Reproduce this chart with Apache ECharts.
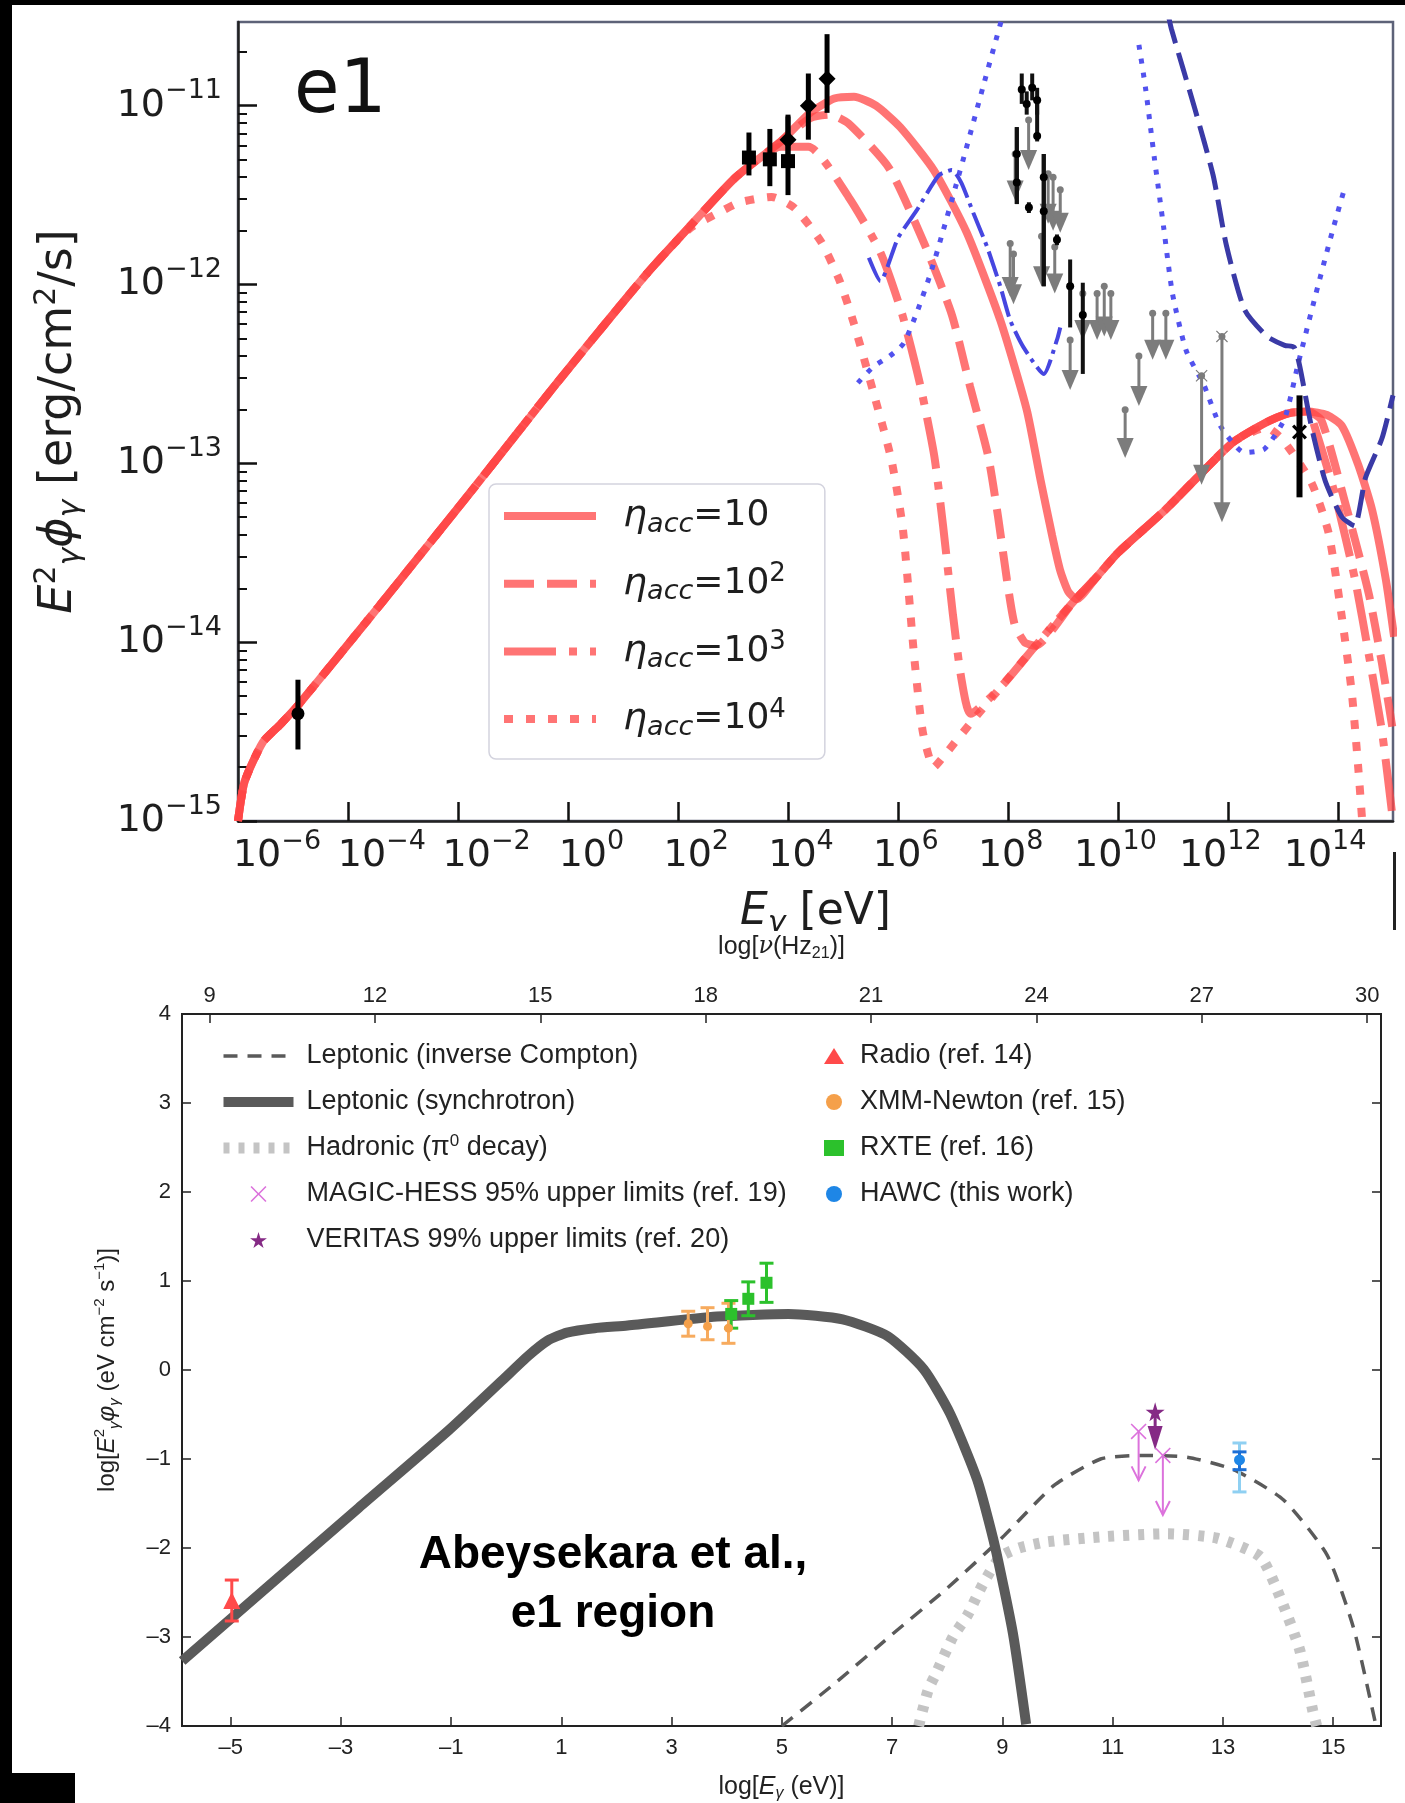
<!DOCTYPE html>
<html>
<head>
<meta charset="utf-8">
<title>e1 region SED</title>
<script src="https://cdn.jsdelivr.net/npm/echarts@6/dist/echarts.min.js"></script>
<style>
  html, body { margin: 0; padding: 0; background: #fff; }
  #chart { width: 1405px; height: 1803px; }
</style>
</head>
<body>
<div id="chart"></div>
<script>
// ---------- top panel: x = log10(E / eV), y = log10(E^2 phi / erg cm^-2 s^-1) ----------
const syncRise = [[-6, -15.0], [-5.88, -14.78], [-5.55, -14.56], [-5.23, -14.46], [-4.9, -14.35],
  [-3.44, -13.8], [-1.82, -13.18], [-0.2, -12.55], [1.43, -11.94]];
const icBranch = [[6.8, -14.65], [7.3, -14.46], [7.9, -14.24], [8.5, -14.02], [9.2, -13.77], [9.6, -13.64],
  [10.0, -13.5], [10.86, -13.26], [11.5, -13.06], [12.1, -12.88], [12.7, -12.77], [13.1, -12.72], [13.45, -12.71]];

const eta1Sync = [[2.2, -11.68], [3.05, -11.4], [3.87, -11.2], [4.4, -11.04], [4.84, -10.96], [5.2, -10.95],
  [5.6, -11.0], [6.04, -11.12], [6.65, -11.36], [7.25, -11.71], [7.86, -12.2], [8.34, -12.7], [8.59, -13.09],
  [8.8, -13.4], [8.95, -13.6], [9.1, -13.72], [9.25, -13.76]];
const eta1Cut = [[13.8, -12.73], [14.07, -12.79], [14.37, -13.01], [14.62, -13.26], [14.87, -13.65], [15.02, -13.97]];

const eta2Sync = [[2.2, -11.68], [3.05, -11.4], [3.87, -11.2], [4.4, -11.07], [4.75, -11.05], [5.1, -11.1],
  [5.84, -11.35], [6.49, -11.78], [6.98, -12.17], [7.31, -12.57], [7.64, -12.96], [7.82, -13.3], [7.98, -13.65],
  [8.12, -13.9], [8.3, -14.0]];
const eta2Cut = [[13.7, -12.76], [14.13, -13.22], [14.56, -13.73], [14.8, -14.12], [15.0, -14.5]];

const eta3Sync = [[2.2, -11.68], [3.05, -11.4], [3.87, -11.23], [4.37, -11.23], [5.1, -11.51], [5.68, -11.82],
  [6.08, -12.17], [6.41, -12.57], [6.66, -12.96], [6.82, -13.35], [7.0, -13.85], [7.15, -14.2], [7.32, -14.4]];
const eta3Cut = [[13.6, -12.82], [13.95, -13.18], [14.31, -13.65], [14.56, -14.07], [14.8, -14.5], [15.0, -15.0]];

const eta4Sync = [[2.2, -11.69], [2.73, -11.6], [3.13, -11.54], [3.7, -11.51], [4.11, -11.57], [4.6, -11.76],
  [4.94, -11.98], [5.2, -12.22], [5.55, -12.6], [5.88, -12.98], [6.09, -13.37], [6.3, -14.1], [6.45, -14.5], [6.65, -14.7]];
const eta4Cut = [[12.7, -12.8], [13.0, -12.87], [13.52, -13.11], [13.83, -13.39], [14.07, -13.86], [14.25, -14.28],
  [14.37, -14.71], [14.44, -15.0]];

const blueDotLow = [[5.27, -12.55], [5.55, -12.46], [5.85, -12.4], [6.1, -12.33], [6.35, -12.15], [6.6, -11.93],
  [6.82, -11.7], [7.05, -11.45], [7.24, -11.24], [7.55, -10.89], [7.9, -10.5]];
const blueDotHigh = [[10.38, -10.66], [10.5, -10.9], [10.66, -11.29], [10.83, -11.68], [10.99, -12.05], [11.24, -12.37],
  [11.56, -12.56], [11.86, -12.79], [12.3, -12.94], [12.66, -12.92], [13.03, -12.75], [13.27, -12.45], [13.6, -12.05],
  [13.9, -11.7], [14.14, -11.44]];
const blueDashDot = [[5.47, -11.85], [5.68, -11.98], [6.0, -11.74], [6.33, -11.59], [6.74, -11.39], [6.98, -11.36],
  [7.15, -11.43], [7.37, -11.6], [7.62, -11.79], [7.86, -12.01], [8.04, -12.2], [8.28, -12.35], [8.65, -12.5],
  [8.89, -12.31], [8.95, -12.24]];
const navyDash = [[10.92, -10.5], [10.97, -10.57], [11.4, -11.02], [11.73, -11.39], [11.97, -11.78], [12.3, -12.14],
  [12.71, -12.29], [13.03, -12.34], [13.2, -12.35], [13.3, -12.45], [13.52, -12.8], [13.77, -13.1], [14.07, -13.3],
  [14.3, -13.35], [14.5, -13.08], [14.8, -12.86], [15.0, -12.62]];

// [x, y, yLow, yHigh]
const radioPt = [[-4.91, -14.4, -14.6, -14.21]];
const xraySquares = [[3.29, -11.29, -11.39, -11.15], [3.67, -11.3, -11.45, -11.13], [4.0, -11.31, -11.5, -11.06]];
const xrayDiamonds = [[4.0, -11.19, -11.32, -11.05], [4.37, -11.0, -11.19, -10.82], [4.71, -10.85, -11.04, -10.6]];
const gammaPts = [[8.25, -10.91, -10.99, -10.82], [8.44, -10.9, -10.97, -10.82], [8.34, -10.99, -11.05, -10.92],
  [8.53, -10.97, -11.05, -10.9], [8.16, -11.27, -11.55, -11.12], [8.16, -11.43, -11.55, -11.12],
  [8.53, -11.17, -11.2, -10.95], [8.38, -11.57, -11.6, -11.54], [8.65, -11.4, -12.01, -11.27],
  [8.65, -11.59, -12.01, -11.27], [8.89, -11.75, -11.78, -11.72], [9.13, -12.01, -12.24, -11.86],
  [9.36, -12.17, -12.5, -11.99]];
const hawcTop = [[13.3, -12.825, -13.19, -12.62]];
// upper limits: [x, yTop, yArrowTip]
const grayLimits = [[8.375, -11.08, -11.36], [8.13, -11.27, -11.53], [8.04, -11.77, -12.07], [8.1, -11.83, -12.11],
  [8.73, -11.38, -11.66], [8.82, -11.4, -11.7], [8.95, -11.47, -11.71], [8.61, -11.73, -12.01], [8.85, -11.79, -12.05],
  [9.13, -12.31, -12.59], [9.36, -12.05, -12.31], [9.62, -12.05, -12.31], [9.75, -12.01, -12.29], [9.87, -12.05, -12.31],
  [10.13, -12.7, -12.97], [10.38, -12.4, -12.68], [10.63, -12.16, -12.42], [10.87, -12.16, -12.42],
  [11.52, -12.51, -13.12], [11.89, -12.29, -13.33]];
const grayCrosses = [[11.52, -12.51], [11.89, -12.29]];

// ---------- bottom panel: x = log10(E / eV), y = log10(E^2 phi / eV cm^-2 s^-1) ----------
const lepSync = [[-5.88, -3.27], [-2.68, -1.55], [-1.05, -0.68], [-0.08, -0.12], [0.4, 0.16], [0.75, 0.33],
  [1.1, 0.42], [1.6, 0.47], [2.2, 0.5], [3.82, 0.6], [5.12, 0.63], [6.1, 0.57], [6.92, 0.38], [7.57, 0.01],
  [8.05, -0.49], [8.54, -1.23], [8.86, -1.97], [9.19, -2.96], [9.43, -3.98]];
const lepIC = [[5.0, -4.0], [6.0, -3.5], [7.0, -2.97], [8.0, -2.45], [9.0, -1.88], [9.93, -1.3], [10.78, -1.0],
  [11.5, -0.96], [12.35, -0.98], [13.19, -1.12], [14.1, -1.46], [14.89, -2.08], [15.37, -2.9], [15.77, -3.98]];
const hadronic = [[7.48, -4.0], [7.65, -3.6], [7.81, -3.39], [8.1, -3.0], [8.37, -2.75], [8.65, -2.4], [8.96, -2.1],
  [9.3, -2.0], [9.81, -1.93], [10.9, -1.87], [11.99, -1.84], [12.89, -1.89], [13.68, -2.1], [14.06, -2.59],
  [14.39, -3.14], [14.63, -3.83], [14.7, -4.0]];
const radioLow = [[-4.98, -2.59, -2.82, -2.36]];
const xmmPts = [[3.3, 0.52, 0.38, 0.66], [3.65, 0.49, 0.34, 0.7], [4.03, 0.47, 0.3, 0.75]];
const rxtePts = [[4.08, 0.63, 0.47, 0.78], [4.39, 0.8, 0.61, 0.99], [4.72, 0.98, 0.76, 1.2]];
const magicLimits = [[11.47, -0.69, -1.24], [11.91, -0.96, -1.63]];
const veritasLimits = [[11.77, -0.47, -0.9]];
// [x, y, innerLow, innerHigh, outerLow, outerHigh]
const hawcPts = [[13.3, -1.01, -1.12, -0.92, -1.37, -0.82]];

const topXTicks = [-4, -2, 0, 2, 4, 6, 8, 10, 12, 14];
const topXLabels = [0, 1, 2, 3, 4, 5, 6, 7, 8, 9, 10];   // label slots for 10^-6 ... 10^14
const topYTicks = [-15, -14, -13, -12, -11];
const lowXTicks = [-5, -3, -1, 1, 3, 5, 7, 9, 11, 13, 15];
const nuTicks = [9, 12, 15, 18, 21, 24, 27, 30];

const TOP_YMIN = -15, TOP_YMAX = -10.532;
const minorTicks = [];
topYTicks.forEach(function (n) {
  [2, 3, 4, 5, 6, 7, 8, 9].forEach(function (k) {
    const v = n + Math.log10(k);
    if (v < TOP_YMAX) minorTicks.push(v);
  });
});

function withIC(head, tail) {
  const a = head[head.length - 1][0], b = tail[0][0];
  return syncRise.concat(head, icBranch.filter(function (p) { return p[0] > a + 0.1 && p[0] < b - 0.1; }), tail);
}

const RED = '#ff4646';
const DV = 'DejaVu Sans';
const LS = 'Liberation Sans';

function pow10(e) {
  return '{b|10}{s|' + (e < 0 ? '\u2212' + (-e) : e) + '}';
}
const powRich = {
  b: { fontFamily: DV, fontSize: 38, lineHeight: 56, color: '#1e1e1e' },
  s: { fontFamily: DV, fontSize: 27, lineHeight: 27, verticalAlign: 'top', color: '#1e1e1e' }
};

function barRenderer(color, width, cap) {
  return function (params, api) {
    const x = api.value(0);
    const lo = api.coord([x, api.value(2)]);
    const hi = api.coord([x, api.value(3)]);
    const st = { stroke: color, lineWidth: width };
    const kids = [{ type: 'line', shape: { x1: lo[0], y1: lo[1], x2: hi[0], y2: hi[1] }, style: st }];
    if (cap) {
      kids.push({ type: 'line', shape: { x1: lo[0] - cap, y1: lo[1], x2: lo[0] + cap, y2: lo[1] }, style: st });
      kids.push({ type: 'line', shape: { x1: hi[0] - cap, y1: hi[1], x2: hi[0] + cap, y2: hi[1] }, style: st });
    }
    return { type: 'group', children: kids };
  };
}

function limitRenderer(color, width, headW, headH, dotR, filled) {
  return function (params, api) {
    const x = api.value(0);
    const t = api.coord([x, api.value(1)]);
    const e = api.coord([x, api.value(2)]);
    const kids = [{ type: 'line', shape: { x1: t[0], y1: t[1], x2: e[0], y2: e[1] - (filled ? headH * 0.5 : 0) },
      style: { stroke: color, lineWidth: width } }];
    const pts = [[e[0] - headW / 2, e[1] - headH], [e[0], e[1]], [e[0] + headW / 2, e[1] - headH]];
    if (filled) kids.push({ type: 'polygon', shape: { points: pts }, style: { fill: color } });
    else kids.push({ type: 'polyline', shape: { points: pts }, style: { stroke: color, lineWidth: width, fill: null } });
    if (dotR) kids.push({ type: 'circle', shape: { cx: t[0], cy: t[1], r: dotR }, style: { fill: color } });
    return { type: 'group', children: kids };
  };
}

function hawcRenderer(params, api) {
  const x = api.value(0);
  const kids = [];
  [[4, 5, '#8fd0f2'], [2, 3, '#1c6fd6']].forEach(function (c) {
    const lo = api.coord([x, api.value(c[0])]);
    const hi = api.coord([x, api.value(c[1])]);
    const st = { stroke: c[2], lineWidth: 3 };
    kids.push({ type: 'line', shape: { x1: lo[0], y1: lo[1], x2: hi[0], y2: hi[1] }, style: st });
    kids.push({ type: 'line', shape: { x1: lo[0] - 7, y1: lo[1], x2: lo[0] + 7, y2: lo[1] }, style: st });
    kids.push({ type: 'line', shape: { x1: hi[0] - 7, y1: hi[1], x2: hi[0] + 7, y2: hi[1] }, style: st });
  });
  return { type: 'group', children: kids };
}

function redLine(name, data, dash) {
  return { name: name, type: 'line', xAxisIndex: 0, yAxisIndex: 0, data: data, symbol: 'none', smooth: 0.2, z: 3,
    lineStyle: { color: RED, width: 8, type: dash, opacity: 0.75, cap: 'butt' }, itemStyle: { color: RED } };
}
function plainLine(name, data, color, width, dash, xi, yi, z) {
  return { name: name, type: 'line', xAxisIndex: xi, yAxisIndex: yi, data: data, symbol: 'none', smooth: 0.2, z: z,
    lineStyle: { color: color, width: width, type: dash, cap: 'butt' }, itemStyle: { color: color } };
}
function custom(name, data, render, xi, yi, z) {
  return { name: name, type: 'custom', xAxisIndex: xi, yAxisIndex: yi, data: data, renderItem: render, z: z,
    encode: { x: 0, y: 1 }, silent: true };
}
function scatter(name, data, symbol, size, color, xi, yi, z) {
  return { name: name, type: 'scatter', xAxisIndex: xi, yAxisIndex: yi, z: z, symbol: symbol, symbolSize: size,
    data: data.map(function (d) { return [d[0], d[1]]; }), itemStyle: { color: color, opacity: 1 } };
}

const xPath = 'path://M0,1.5L1.5,0L5,3.5L8.5,0L10,1.5L6.5,5L10,8.5L8.5,10L5,6.5L1.5,10L0,8.5L3.5,5Z';
const thinX = 'path://M0,0.7L0.7,0L5,4.3L9.3,0L10,0.7L5.7,5L10,9.3L9.3,10L5,5.7L0.7,10L0,9.3L4.3,5Z';
const starPath = 'path://M50,0L61,35L98,35L68,57L79,91L50,70L21,91L32,57L2,35L39,35Z';

const etaLabels = { e1: '{b|=10}', e2: '{b|=10}{p|2}', e3: '{b|=10}{p|3}', e4: '{b|=10}{p|4}' };

const series = [
  // top panel
  plainLine('blueDotLow', blueDotLow, '#5252ee', 5, [5, 9], 0, 0, 4),
  plainLine('blueDotHigh', blueDotHigh, '#5252ee', 5, [5, 9], 0, 0, 4),
  plainLine('blueDashDot', blueDashDot, '#4646e0', 4, [26, 6, 4, 6], 0, 0, 4),
  plainLine('navyDash', navyDash, '#3a3aa6', 5, [28, 10], 0, 0, 4),
  redLine('e1', withIC(eta1Sync, eta1Cut), 'solid'),
  redLine('e2', withIC(eta2Sync, eta2Cut), [30, 13]),
  redLine('e3', withIC(eta3Sync, eta3Cut), [52, 13, 8, 13]),
  redLine('e4', withIC(eta4Sync, eta4Cut), [9, 13]),
  custom('grayUL', grayLimits, limitRenderer('#7c7c7c', 3, 17, 20, 3.5, true), 0, 0, 5),
  scatter('grayX', grayCrosses, thinX, 12, '#7c7c7c', 0, 0, 5),
  custom('radioErr', radioPt, barRenderer('#000', 5, 0), 0, 0, 6),
  custom('sqErr', xraySquares, barRenderer('#000', 5, 0), 0, 0, 6),
  custom('diErr', xrayDiamonds, barRenderer('#000', 5, 0), 0, 0, 6),
  custom('gErr', gammaPts, barRenderer('#111', 4, 0), 0, 0, 6),
  custom('hawcErr', hawcTop, barRenderer('#000', 6, 0), 0, 0, 6),
  scatter('radioTop', radioPt, 'circle', 13, '#000', 0, 0, 7),
  scatter('sqTop', xraySquares, 'rect', 14, '#000', 0, 0, 7),
  scatter('diTop', xrayDiamonds, 'diamond', 17, '#000', 0, 0, 7),
  scatter('gTop', gammaPts, 'circle', 8, '#000', 0, 0, 7),
  scatter('hawcX', hawcTop, xPath, 15, '#000', 0, 0, 7),
  // bottom panel
  plainLine('Hadronic (π0 decay)', hadronic, '#c4c4c4', 11, [6, 9], 2, 2, 3),
  plainLine('Leptonic (inverse Compton)', lepIC, '#5a5a5a', 3.5, [14, 10], 2, 2, 4),
  plainLine('Leptonic (synchrotron)', lepSync, '#5a5a5a', 10, 'solid', 2, 2, 4),
  custom('radioLowErr', radioLow, barRenderer('#ff4a4a', 3, 7), 2, 2, 5),
  custom('xmmErr', xmmPts, barRenderer('#f7ab5e', 3, 7), 2, 2, 5),
  custom('rxteErr', rxtePts, barRenderer('#2cc12c', 3, 7), 2, 2, 5),
  custom('hawcLowErr', hawcPts, hawcRenderer, 2, 2, 5),
  custom('magicUL', magicLimits, limitRenderer('#dc72dc', 2, 14, 14, 0, false), 2, 2, 5),
  custom('veritasUL', veritasLimits, limitRenderer('#852a85', 3, 15, 24, 0, true), 2, 2, 5),
  scatter('Radio (ref. 14)', radioLow, 'triangle', 17, '#ff4a4a', 2, 2, 6),
  scatter('XMM-Newton (ref. 15)', xmmPts, 'circle', 9, '#f5a04a', 2, 2, 6),
  scatter('RXTE (ref. 16)', rxtePts, 'rect', 12, '#2cc12c', 2, 2, 6),
  scatter('HAWC (this work)', hawcPts, 'circle', 11, '#1e86e6', 2, 2, 6),
  scatter('MAGIC-HESS 95% upper limits (ref. 19)', magicLimits, thinX, 16, '#dc72dc', 2, 2, 6),
  scatter('VERITAS 99% upper limits (ref. 20)', veritasLimits, starPath, 19, '#852a85', 2, 2, 6)
];

const lowTick = { inside: true, length: 9, lineStyle: { color: '#222', width: 1.5 } };
const lowLabel = { fontFamily: LS, fontSize: 22, color: '#222' };
function dashNum(v) { return v < 0 ? '\u2013' + (-v) : String(v); }

const option = {
  animation: false,
  backgroundColor: '#fff',
  grid: [
    { left: 238, top: 22, width: 1155, height: 799, show: true, borderColor: '#5d6278', borderWidth: 2.5,
      backgroundColor: 'transparent', outerBoundsMode: 'none' },
    { left: 182, top: 1014, width: 1199, height: 712, show: true, borderColor: '#222', borderWidth: 2,
      backgroundColor: 'transparent', outerBoundsMode: 'none' }
  ],
  xAxis: [
    { gridIndex: 0, type: 'value', min: -6, max: 15, position: 'bottom',
      axisLine: { show: true, onZero: false, lineStyle: { color: '#222', width: 2.5 } },
      axisTick: { inside: true, length: 19, customValues: topXTicks, lineStyle: { color: '#111', width: 2.5 } },
      axisLabel: { show: false }, splitLine: { show: false } },
    { gridIndex: 0, type: 'value', min: -0.372, max: 10.648, position: 'bottom', z: 1,
      axisLine: { show: false, onZero: false }, axisTick: { show: false }, splitLine: { show: false },
      axisLabel: { customValues: topXLabels, margin: 7, formatter: function (v) { return pow10(2 * v - 6); }, rich: powRich },
      name: '{i|E}{sb|γ}{n| [eV]}', nameLocation: 'middle', nameGap: 66,
      nameTextStyle: { fontFamily: DV, color: '#1e1e1e', rich: {
        i: { fontFamily: DV, fontStyle: 'italic', fontSize: 44, lineHeight: 52 },
        sb: { fontFamily: DV, fontStyle: 'italic', fontSize: 30, lineHeight: 30, verticalAlign: 'bottom' },
        n: { fontFamily: DV, fontSize: 44, lineHeight: 52 } } } },
    { gridIndex: 1, type: 'value', min: -5.883, max: 15.867, position: 'bottom',
      axisLine: { show: true, onZero: false, lineStyle: { color: '#222', width: 2 } },
      axisTick: Object.assign({ customValues: lowXTicks }, lowTick),
      axisLabel: Object.assign({ customValues: lowXTicks, margin: 11, formatter: dashNum }, lowLabel),
      splitLine: { show: false },
      name: '{n|log[}{i|E}{sb|γ}{n| (eV)]}', nameLocation: 'middle', nameGap: 46,
      nameTextStyle: { rich: {
        n: { fontFamily: LS, fontSize: 25, color: '#222', lineHeight: 30 },
        i: { fontFamily: LS, fontStyle: 'italic', fontSize: 25, color: '#222', lineHeight: 30 },
        sb: { fontFamily: LS, fontStyle: 'italic', fontSize: 16, color: '#222', lineHeight: 16, verticalAlign: 'bottom' } } } },
    { gridIndex: 1, type: 'value', min: 8.5, max: 30.25, position: 'top', z: 3,
      axisLine: { show: true, onZero: false, lineStyle: { color: '#222', width: 2 } },
      axisTick: Object.assign({ customValues: nuTicks }, lowTick),
      axisLabel: Object.assign({ customValues: nuTicks, margin: 7 }, lowLabel),
      splitLine: { show: false },
      name: '{n|log[}{i|ν}{n|(Hz}{sb|21}{n|)]}', nameLocation: 'middle', nameGap: 52,
      nameTextStyle: { rich: {
        n: { fontFamily: LS, fontSize: 25, color: '#222', lineHeight: 30 },
        i: { fontFamily: 'DejaVu Serif', fontStyle: 'italic', fontSize: 24, color: '#222', lineHeight: 30 },
        sb: { fontFamily: LS, fontSize: 16, color: '#222', lineHeight: 16, verticalAlign: 'bottom' } } } }
  ],
  yAxis: [
    { gridIndex: 0, type: 'value', min: TOP_YMIN, max: TOP_YMAX, position: 'left',
      axisLine: { show: true, onZero: false, lineStyle: { color: '#222', width: 2.5 } },
      axisTick: { inside: true, length: 19, customValues: topYTicks, lineStyle: { color: '#111', width: 2.5 } },
      axisLabel: { customValues: topYTicks, margin: 16, formatter: function (v) { return pow10(v); }, rich: powRich },
      splitLine: { show: false },
      name: '{i|E}{sp|2}{sb|γ}{i|ϕ}{sb|γ}{n| [erg/cm}{sp|2}{n|/s]}', nameLocation: 'middle', nameGap: 152, nameRotate: 90,
      nameTextStyle: { rich: {
        i: { fontFamily: DV, fontStyle: 'italic', fontSize: 46, color: '#1e1e1e', lineHeight: 54 },
        n: { fontFamily: DV, fontSize: 46, color: '#1e1e1e', lineHeight: 54 },
        sp: { fontFamily: DV, fontSize: 30, color: '#1e1e1e', lineHeight: 30, verticalAlign: 'top' },
        sb: { fontFamily: DV, fontStyle: 'italic', fontSize: 30, color: '#1e1e1e', lineHeight: 30, verticalAlign: 'bottom' } } } },
    { gridIndex: 0, type: 'value', min: TOP_YMIN, max: TOP_YMAX, position: 'left',
      axisLine: { show: false, onZero: false },
      axisTick: { inside: true, length: 9, customValues: minorTicks, lineStyle: { color: '#111', width: 2 } },
      axisLabel: { show: false }, splitLine: { show: false } },
    { gridIndex: 1, type: 'value', min: -4, max: 4, interval: 1, position: 'left',
      axisLine: { show: true, onZero: false, lineStyle: { color: '#222', width: 2 } },
      axisTick: lowTick,
      axisLabel: Object.assign({ margin: 11, formatter: dashNum }, lowLabel),
      splitLine: { show: false },
      name: '{n|log[}{i|E}{sp|2}{sb|γ}{i|φ}{sb|γ}{n| (eV cm}{sp|−2}{n| s}{sp|−1}{n|)]}',
      nameLocation: 'middle', nameGap: 60, nameRotate: 90,
      nameTextStyle: { rich: {
        n: { fontFamily: LS, fontSize: 24, color: '#222', lineHeight: 30 },
        i: { fontFamily: LS, fontStyle: 'italic', fontSize: 24, color: '#222', lineHeight: 30 },
        sp: { fontFamily: LS, fontSize: 15, color: '#222', lineHeight: 15, verticalAlign: 'top' },
        sb: { fontFamily: LS, fontStyle: 'italic', fontSize: 15, color: '#222', lineHeight: 15, verticalAlign: 'bottom' } } } },
    { gridIndex: 1, type: 'value', min: -4, max: 4, interval: 1, position: 'right',
      axisLine: { show: true, onZero: false, lineStyle: { color: '#222', width: 2 } },
      axisTick: lowTick, axisLabel: { show: false }, splitLine: { show: false } }
  ],
  legend: [
    { left: 489, top: 484, orient: 'vertical', selectedMode: false,
      padding: [13, 39, 18, 11], itemGap: 23.7, itemWidth: 92, itemHeight: 14,
      backgroundColor: 'rgba(255,255,255,0.85)', borderColor: '#d3d3de', borderWidth: 1.5, borderRadius: 7,
      lineStyle: { width: 'inherit' },
      data: ['e1', 'e2', 'e3', 'e4'].map(function (n) { return { name: n, itemStyle: { opacity: 0 } }; }),
      formatter: function (n) { return '{g| }{i|η}{s|acc}' + etaLabels[n]; },
      textStyle: { fontFamily: DV, fontSize: 36, color: '#1e1e1e', rich: {
        g: { width: 22 },
        i: { fontFamily: DV, fontStyle: 'italic', fontSize: 38, lineHeight: 44 },
        s: { fontFamily: DV, fontStyle: 'italic', fontSize: 27, lineHeight: 27, verticalAlign: 'bottom' },
        b: { fontFamily: DV, fontSize: 36, lineHeight: 44 },
        p: { fontFamily: DV, fontSize: 26, lineHeight: 26, verticalAlign: 'top' } } } },
    { left: 218, top: 1041, orient: 'vertical', selectedMode: false, padding: 0,
      itemGap: 16, itemWidth: 70, itemHeight: 16,
      lineStyle: { width: 'inherit' },
      data: [
        { name: 'Leptonic (inverse Compton)', itemStyle: { opacity: 0 } },
        { name: 'Leptonic (synchrotron)', itemStyle: { opacity: 0 } },
        { name: 'Hadronic (π0 decay)', itemStyle: { opacity: 0 } },
        'MAGIC-HESS 95% upper limits (ref. 19)',
        'VERITAS 99% upper limits (ref. 20)'
      ],
      formatter: function (n) {
        return '{g| }' + (n === 'Hadronic (π0 decay)' ? 'Hadronic (π{sp|0} decay)' : n);
      },
      textStyle: { fontFamily: LS, fontSize: 27, color: '#222', lineHeight: 30, rich: {
        g: { width: 8 },
        sp: { fontFamily: LS, fontSize: 17, lineHeight: 17, verticalAlign: 'top' } } } },
    { left: 824, top: 1041, orient: 'vertical', selectedMode: false, padding: 0,
      itemGap: 16, itemWidth: 20, itemHeight: 16,
      data: ['Radio (ref. 14)', 'XMM-Newton (ref. 15)', 'RXTE (ref. 16)', 'HAWC (this work)'],
      formatter: function (n) { return '{g| }' + n; },
      textStyle: { fontFamily: LS, fontSize: 27, color: '#222', lineHeight: 30, rich: { g: { width: 11 } } } }
  ],
  graphic: [
    { type: 'rect', shape: { x: 0, y: 0, width: 1405, height: 5 }, style: { fill: '#000' }, z: 10 },
    { type: 'rect', shape: { x: 0, y: 0, width: 12, height: 1774 }, style: { fill: '#000' }, z: 10 },
    { type: 'rect', shape: { x: 0, y: 1773, width: 75, height: 30 }, style: { fill: '#000' }, z: 10 },
    { type: 'rect', shape: { x: 1393, y: 852, width: 3, height: 78 }, style: { fill: '#222' }, z: 10 },
    { type: 'rect', shape: { x: 560, y: 931, width: 500, height: 16 }, style: { fill: '#fff' }, z: 2 },
    { type: 'text', x: 294, y: 56, z: 10,
      style: { text: 'e1', fontFamily: DV, fontSize: 74, fill: '#111' } },
    { type: 'text', x: 613, y: 1526, z: 10,
      style: { text: 'Abeysekara et al.,\ne1 region', align: 'center', fontFamily: LS, fontWeight: 'bold',
        fontSize: 46, lineHeight: 59, fill: '#000' } }
  ],
  series: series
};

const chart = echarts.init(document.getElementById('chart'), null, { renderer: 'canvas' });
chart.setOption(option);
</script>
</body>
</html>
